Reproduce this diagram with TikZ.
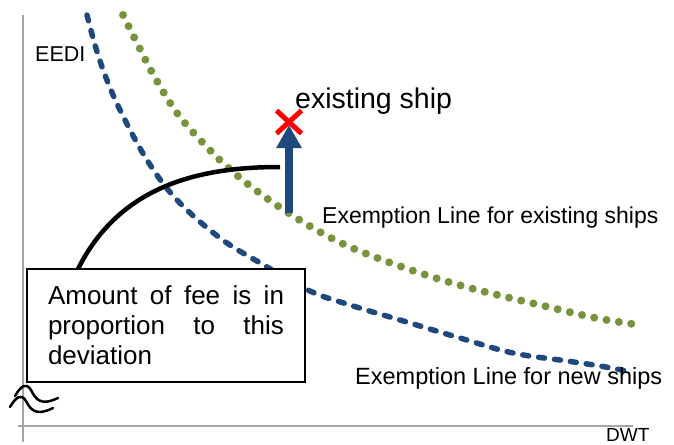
\documentclass[tikz,border=0pt]{standalone}
\usepackage{fontspec}
\setmainfont{Liberation Sans}
\usetikzlibrary{arrows.meta,shapes.misc}
\definecolor{lineblue}{RGB}{31,73,125}
\definecolor{olivegreen}{RGB}{119,147,60}
\definecolor{axisgray}{RGB}{166,166,166}

\begin{document}
\begin{tikzpicture}[x=1pt,y=-1pt,
  axisline/.style={draw=axisgray,line width=2pt},
  newships/.style={draw=lineblue,line width=5.5pt,line cap=round,dash pattern=on 6pt off 10pt},
  oldships/.style={draw=olivegreen,line width=8pt,line cap=round,dash pattern=on 0pt off 12.5pt},
  lbl/.style={inner sep=0pt,anchor=base west},
  notebox/.style={draw=black,line width=2.2pt,fill=white,minimum width=278pt,minimum height=113pt,inner sep=0pt},
  breakmark/.style={draw=black,line width=2.5pt,line cap=round},
  raise/.style={draw=lineblue,line width=8pt,-{Triangle[width=24pt,length=23pt]}},
  shipmark/.style={cross out,draw=red,line width=5pt,minimum width=20pt,minimum height=18pt,inner sep=0pt}
]
\useasboundingbox (0,0) rectangle (674,444);

% axes
\coordinate (ytop) at (23,15);
\coordinate (ybot) at (23,442);
\coordinate (xl) at (18,426);
\coordinate (xr) at (633,426);
\draw[axisline] (ytop) -- (ybot);
\draw[axisline] (xl) -- (xr);
\node[lbl,font=\fontsize{21.5}{26}\selectfont] (eedi) at (35,62) {EEDI};
\node[lbl,font=\fontsize{19}{23}\selectfont] (dwt) at (606,441.5) {DWT};

% axis break
\draw[breakmark] (15,396) .. controls (21,386) and (26,382) .. (31,390)
  .. controls (36,400) and (41,406) .. (58,398);
\draw[breakmark] (10,407) .. controls (16,397) and (21,393) .. (26,401)
  .. controls (31,411) and (37,416) .. (53,408);

% exemption line for new ships
\draw[newships] plot[smooth,tension=0.6] coordinates {
  (87,15) (95,45) (105,75) (120,110) (147,160) (177,200) (220,238)
  (262,264) (310,291) (350,305) (400,320) (460,338) (513,353)
  (567,361) (600,366) (632,372)};

% exemption line for existing ships
\draw[oldships] plot[smooth,tension=0.6] coordinates {
  (123,15) (137,43) (153,74) (177,113) (205,145) (233,172) (265,197)
  (298,219) (333,239) (367,254) (417,272) (470,288) (540,305)
  (596,318) (633,324)};

% deviation of the existing ship
\coordinate (arcstart) at (78,269);
\coordinate (arcend) at (280,167);
\draw[line width=4.5pt] (arcstart) .. controls (120,185) and (200,167) .. (arcend);

\node[notebox] (note) at (166,325.5) {\vbox{\fontsize{26}{30}\selectfont
  \hsize=236pt \baselineskip=30pt
  \hbox to\hsize{Amount\hfill of\hfill fee\hfill is\hfill in}
  \hbox to\hsize{proportion\hfill to\hfill this}
  \hbox to\hsize{deviation\hfill}}};

\node[shipmark] (ship) at (289,122) {};
\coordinate (base) at (289,213);
\coordinate (tip) at (289,125);
\draw[raise] (base) -- (tip);

% labels
\node[lbl,font=\fontsize{28.5}{34}\selectfont] (shiplbl) at (295,108) {existing ship};
\node[lbl,font=\fontsize{23}{28}\selectfont] (oldlbl) at (322,223) {Exemption Line for existing ships};
\node[lbl,font=\fontsize{23.5}{28}\selectfont] (newlbl) at (355,384) {Exemption Line for new ships};
\end{tikzpicture}
\end{document}
